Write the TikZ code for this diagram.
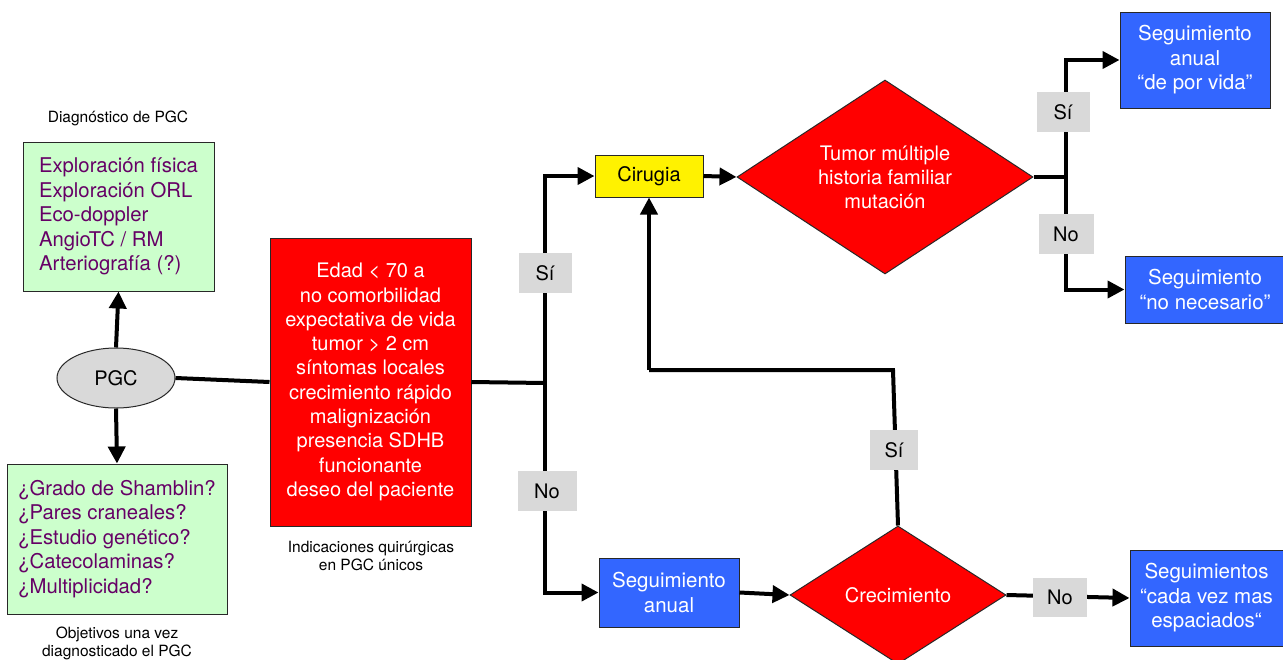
\documentclass[tikz,border=0pt]{standalone}
\usepackage{fontspec}
\setmainfont{TeX Gyre Heros}
\usetikzlibrary{shapes.geometric,arrows.meta}
\definecolor{gbox}{RGB}{204,255,204}
\definecolor{purp}{RGB}{102,0,102}
\definecolor{bbox}{RGB}{51,102,255}
\definecolor{lgray}{RGB}{217,217,217}
\definecolor{bord}{RGB}{40,40,40}
\tikzset{
  box/.style={draw=bord, line width=1pt, rectangle, inner sep=0pt},
  greenbox/.style={box, fill=gbox, text=purp, align=left, font=\fontsize{20.3}{24.6}\selectfont},
  redbox/.style={box, fill=red, text=white, align=center, font=\fontsize{20}{24.3}\selectfont},
  bluebox/.style={box, fill=bbox, text=white, align=center, font=\fontsize{20.5}{24.5}\selectfont},
  yelbox/.style={box, fill=yellow, text=black, font=\fontsize{20}{22}\selectfont},
  dia/.style={draw=bord, line width=1pt, diamond, inner sep=0pt, fill=red, text=white, align=center, font=\fontsize{20}{24}\selectfont},
  lab/.style={rectangle, fill=lgray, inner sep=0pt, font=\fontsize{20}{22}\selectfont},
  captxt/.style={align=center, font=\fontsize{15.5}{18}\selectfont},
  conn/.style={line width=4pt, draw=black},
  arr/.style={conn, -{Triangle[length=17pt,width=17pt]}},
}
\begin{document}
\begin{tikzpicture}[x=1pt,y=-1pt]
\useasboundingbox (0,0) rectangle (1283,659);
% captions
\node[captxt] (capdiag) at (118,118) {Diagnóstico de PGC};
\node[captxt] (capobj) at (117,643) {Objetivos una vez\\diagnosticado el PGC};
\node[captxt] (capind) at (371,556) {Indicaciones quirúrgicas\\en PGC únicos};
% nodes
\node[greenbox, minimum width=191pt, minimum height=149pt] (g1) at (118.5,216.5)
  {Exploración física\\Exploración ORL\\Eco-doppler\\AngioTC / RM\\Arteriografía (?)};
\node[greenbox, minimum width=220pt, minimum height=150pt] (g2) at (117,539)
  {¿Grado de Shamblin?\\¿Pares craneales?\\¿Estudio genético?\\¿Catecolaminas?\\¿Multiplicidad?};
\node[draw=bord, line width=1pt, ellipse, fill=lgray, minimum width=118pt, minimum height=60pt, inner sep=0pt, font=\fontsize{20}{22}\selectfont] (pgc) at (116,378) {PGC};
\node[redbox, minimum width=201pt, minimum height=288pt] (red) at (370.5,382)
  {Edad < 70 a\\no comorbilidad\\expectativa de vida\\tumor > 2 cm\\síntomas locales\\crecimiento rápido\\malignización\\presencia SDHB\\funcionante\\deseo del paciente};
\node[yelbox, minimum width=108pt, minimum height=42pt] (cir) at (649,176) {Cirugia};
\node[dia, minimum width=296pt, minimum height=194pt, aspect=1.53] (d1) at (885,177)
  {Tumor múltiple\\historia familiar\\mutación};
\node[bluebox, minimum width=150pt, minimum height=96pt] (b1) at (1195,60)
  {Seguimiento\\anual\\“de por vida”};
\node[bluebox, minimum width=160pt, minimum height=67pt] (b2) at (1205,289.5)
  {Seguimiento\\“no necesario”};
\node[bluebox, minimum width=140pt, minimum height=69pt] (seg) at (669,592.5)
  {Seguimiento\\anual};
\node[dia, minimum width=216pt, minimum height=138pt, aspect=1.56] (d2) at (898,595)
  {Crecimiento};
\node[bluebox, minimum width=153pt, minimum height=96pt] (b3) at (1206.5,598)
  {Seguimientos\\“cada vez mas\\espaciados“};
% junctions
\coordinate (j1) at (545,383);
\coordinate (j2) at (1066,177);
\coordinate (c1) at (893,370);
\coordinate (c2) at (649,370);
% connectors
\draw[arr] (pgc.north) -- (g1.south);
\draw[arr] (pgc.south) -- (g2.north);
\draw[conn] (pgc.east) -- (red.west);
\draw[conn] (red.east) -- (j1);
\draw[arr] (j1) |- (cir.west);
\draw[arr] (j1) |- (seg.west);
\draw[arr] (cir.east) -- (d1.west);
\draw[conn] (d1.east) -- (j2);
\draw[arr] (j2) |- (b1.west);
\draw[arr] (j2) |- (b2.west);
\draw[arr] (seg.east) -- (d2.west);
\draw[arr] (d2.east) -- (b3.west);
\draw[conn, line join=miter] (d2.north) -- (c1) -- (c2);
\draw[arr] (c2) -- (cir.south);
% labels
\node[lab, minimum width=53pt, minimum height=40pt] (si1) at (545,273) {Sí};
\node[lab, minimum width=59pt, minimum height=40pt] (no1) at (547,491) {No};
\node[lab, minimum width=53pt, minimum height=40pt] (si2) at (1063,112) {Sí};
\node[lab, minimum width=55pt, minimum height=40pt] (no2) at (1066,234) {No};
\node[lab, minimum width=48pt, minimum height=40pt] (si3) at (894,450) {Sí};
\node[lab, minimum width=54pt, minimum height=39pt] (no3) at (1060,597) {No};
\end{tikzpicture}
\end{document}
